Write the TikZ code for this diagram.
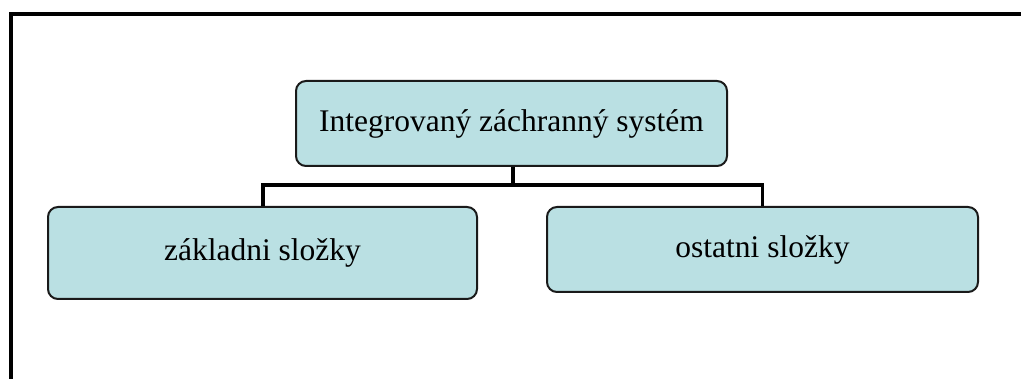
\documentclass[tikz,border=0pt]{standalone}
\usepackage{fontspec}
\setmainfont{Liberation Serif}
\usetikzlibrary{calc}
\definecolor{boxfill}{HTML}{BAE0E3}
\definecolor{boxline}{HTML}{1A1A1A}
\tikzset{
  orgbox/.style={draw=boxline, line width=2pt, fill=boxfill, rounded corners=10pt,
    minimum width=#1, inner sep=0pt, font=\fontsize{31.5}{36}\selectfont, text=black},
  conn/.style={draw=black, line width=3.6pt},
  frameline/.style={draw=black, line width=4pt}
}
\begin{document}
\begin{tikzpicture}[x=1pt,y=-1pt]
\useasboundingbox (0,0) rectangle (1021,379);
\coordinate (fa) at (11,379);
\coordinate (fb) at (11,13.7);
\coordinate (fc) at (1021,13.7);
\draw[frameline] (fa) -- (fb) -- (fc);
\node[orgbox=431pt, minimum height=85pt] (top) at (511.5,123.5) {Integrovaný záchranný systém};
\node[orgbox=429pt, minimum height=92pt] (left) at (262.5,253) {základni složky};
\node[orgbox=431pt, minimum height=85pt] (right) at (762.5,249.5) {ostatni složky};
\coordinate (jn) at (513,185);
\draw[conn] ($(top.south)+(1.5,0)$) -- (jn);
\draw[conn] ($(left.north)+(0.5,0)$) |- (jn) -| (right.north);
\end{tikzpicture}
\end{document}
